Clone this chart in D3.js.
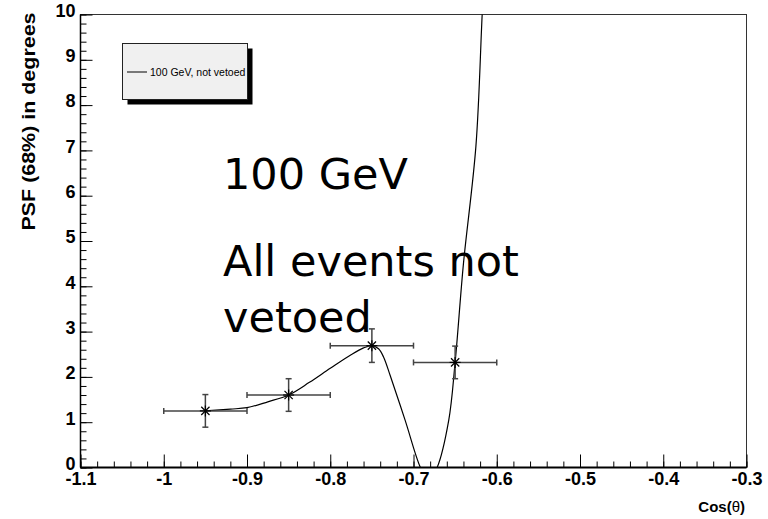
<!DOCTYPE html>
<html>
<head>
<meta charset="utf-8">
<script src="https://cdn.jsdelivr.net/npm/d3@7"></script>
<style>
  html, body { margin: 0; padding: 0; background: #fff; }
  svg { display: block; }
</style>
</head>
<body>
<svg id="chart" width="768" height="519"></svg>
<script>
// Measured PSF containment (68%) vs cos(theta), 100 GeV sample
const pointX = [-0.95, -0.85, -0.75, -0.65];
const pointY = [1.25, 1.60, 2.69, 2.32];
const errX = [0.05, 0.05, 0.05, 0.05];
const errY = [0.36, 0.36, 0.37, 0.36];

// Fitted curve, sampled along its length
const curveX = [-0.95, -0.92, -0.90, -0.875, -0.85, -0.825, -0.80, -0.775, -0.76, -0.75,
                -0.742, -0.736, -0.728, -0.71, -0.6917, -0.682, -0.6716, -0.6577, -0.65,
                -0.64, -0.625, -0.6175, -0.612];
const curveY = [1.25, 1.29, 1.32, 1.45, 1.60, 1.88, 2.19, 2.49, 2.64, 2.69,
                2.62, 2.44, 2.03, 1.04, 0.0, -0.3, 0.0, 1.04, 2.32,
                4.5, 7.1, 10.0, 12.0];

// Axis ticks
const xTickValues = [-1.1, -1.0, -0.9, -0.8, -0.7, -0.6, -0.5, -0.4, -0.3];
const xTickLabels = ["-1.1", "-1", "-0.9", "-0.8", "-0.7", "-0.6", "-0.5", "-0.4", "-0.3"];
const yTickValues = [0, 1, 2, 3, 4, 5, 6, 7, 8, 9, 10];
const yTickLabels = ["0", "1", "2", "3", "4", "5", "6", "7", "8", "9", "10"];

const legendLabel = "100 GeV, not vetoed";
const noteLines = ["100 GeV", "All events not", "vetoed"];

const svg = d3.select("#chart");
const frameL = 80.5, frameR = 746.5, frameT = 14.5, frameB = 467.5;

const x = d3.scaleLinear().domain([-1.1, -0.3]).range([frameL, frameR]);
const y = d3.scaleLinear().domain([0, 10]).range([frameB, frameT]);

const axisFont = "'Liberation Sans', Arial, Helvetica, sans-serif";

svg.append("defs").append("clipPath").attr("id", "plotClip")
  .append("rect").attr("x", frameL).attr("y", frameT)
  .attr("width", frameR - frameL).attr("height", frameB - frameT);

// Frame
svg.append("rect")
  .attr("x", frameL).attr("y", frameT)
  .attr("width", frameR - frameL).attr("height", frameB - frameT)
  .attr("fill", "none").attr("stroke", "#333").attr("stroke-width", 1);

// X axis: major ticks every 0.1, minor every 0.02
const xMinor = d3.range(0, 41).map(i => -1.1 + i * 0.02);
const xAxisMinor = d3.axisTop(x).tickValues(xMinor).tickSize(6).tickFormat("");
const gxm = svg.append("g").attr("transform", `translate(0,${frameB})`).call(xAxisMinor);
gxm.select(".domain").remove();

const xAxis = d3.axisTop(x).tickValues(xTickValues).tickSize(13)
  .tickFormat((d, i) => xTickLabels[i]);
const gx = svg.append("g").attr("transform", `translate(0,${frameB})`).call(xAxis);
gx.select(".domain").remove();
gx.selectAll("text")
  .attr("y", 17).attr("dy", "0")
  .attr("font-family", axisFont).attr("font-weight", "bold").attr("font-size", 18)
  .attr("fill", "#000");

// Y axis: major ticks every 1, minor every 0.2
const yMinor = d3.range(0, 51).map(i => i * 0.2);
const yAxisMinor = d3.axisRight(y).tickValues(yMinor).tickSize(6).tickFormat("");
const gym = svg.append("g").attr("transform", `translate(${frameL},0)`).call(yAxisMinor);
gym.select(".domain").remove();

const yAxis = d3.axisRight(y).tickValues(yTickValues).tickSize(12)
  .tickFormat((d, i) => yTickLabels[i]);
const gy = svg.append("g").attr("transform", `translate(${frameL},0)`).call(yAxis);
gy.select(".domain").remove();
gy.selectAll("text")
  .attr("x", -5).attr("dy", "0.1em")
  .attr("text-anchor", "end")
  .attr("font-family", axisFont).attr("font-weight", "bold").attr("font-size", 18)
  .attr("fill", "#000");

svg.selectAll(".tick line").attr("stroke", "#000");

// Axis lines
svg.append("line").attr("x1", frameL).attr("x2", frameR).attr("y1", frameB).attr("y2", frameB)
  .attr("stroke", "#000").attr("stroke-width", 2);
svg.append("line").attr("x1", frameL).attr("x2", frameL).attr("y1", frameT).attr("y2", frameB)
  .attr("stroke", "#000").attr("stroke-width", 1.5);

// Axis titles
svg.append("text")
  .attr("transform", `translate(35,${frameT - 2}) rotate(-90)`)
  .attr("text-anchor", "end")
  .attr("font-family", axisFont).attr("font-weight", "bold").attr("font-size", 19)
  .attr("textLength", 218).attr("lengthAdjust", "spacingAndGlyphs")
  .text("PSF (68%) in degrees");

const xt = svg.append("text")
  .attr("x", 745).attr("y", 512)
  .attr("text-anchor", "end")
  .attr("font-family", axisFont).attr("font-size", 15);
xt.append("tspan").attr("font-weight", "bold").text("Cos(");
xt.append("tspan").text("\u03b8");
xt.append("tspan").attr("font-weight", "bold").text(")");

// Fitted curve
const curvePts = curveX.map((v, i) => [v, curveY[i]]);
svg.append("path")
  .attr("clip-path", "url(#plotClip)")
  .attr("d", d3.line().x(d => x(d[0])).y(d => y(d[1])).curve(d3.curveCatmullRom.alpha(0.5))(curvePts))
  .attr("fill", "none").attr("stroke", "#000").attr("stroke-width", 1.2);

// Error bars and markers
const pts = pointX.map((v, i) => ({ x: v, y: pointY[i], ex: errX[i], ey: errY[i] }));
const eb = svg.append("g").attr("stroke", "#444").attr("stroke-width", 1.5);
pts.forEach(p => {
  const cx = x(p.x), cy = y(p.y);
  const x0 = x(p.x - p.ex), x1 = x(p.x + p.ex);
  const y0 = y(p.y - p.ey), y1 = y(p.y + p.ey);
  eb.append("line").attr("x1", x0).attr("x2", x1).attr("y1", cy).attr("y2", cy);
  eb.append("line").attr("x1", x0).attr("x2", x0).attr("y1", cy - 3).attr("y2", cy + 3);
  eb.append("line").attr("x1", x1).attr("x2", x1).attr("y1", cy - 3).attr("y2", cy + 3);
  eb.append("line").attr("x1", cx).attr("x2", cx).attr("y1", y0).attr("y2", y1);
  eb.append("line").attr("x1", cx - 3).attr("x2", cx + 3).attr("y1", y0).attr("y2", y0);
  eb.append("line").attr("x1", cx - 3).attr("x2", cx + 3).attr("y1", y1).attr("y2", y1);
});
const mk = svg.append("g").attr("stroke", "#000").attr("stroke-width", 1.2);
pts.forEach(p => {
  const cx = x(p.x), cy = y(p.y), r = 5.5;
  mk.append("line").attr("x1", cx - r).attr("x2", cx + r).attr("y1", cy).attr("y2", cy);
  mk.append("line").attr("x1", cx).attr("x2", cx).attr("y1", cy - r).attr("y2", cy + r);
  mk.append("line").attr("x1", cx - r * 0.75).attr("x2", cx + r * 0.75).attr("y1", cy - r * 0.75).attr("y2", cy + r * 0.75);
  mk.append("line").attr("x1", cx - r * 0.75).attr("x2", cx + r * 0.75).attr("y1", cy + r * 0.75).attr("y2", cy - r * 0.75);
});

// Legend with drop shadow
const lg = svg.append("g");
lg.append("rect").attr("x", 127.5).attr("y", 48.5).attr("width", 125).attr("height", 56).attr("fill", "#000");
lg.append("rect").attr("x", 122.5).attr("y", 43.5).attr("width", 125).attr("height", 56)
  .attr("fill", "#f0f0f0").attr("stroke", "#222").attr("stroke-width", 1);
lg.append("line").attr("x1", 127).attr("x2", 147).attr("y1", 72).attr("y2", 72)
  .attr("stroke", "#000").attr("stroke-width", 1);
lg.append("text").attr("x", 150).attr("y", 75.5)
  .attr("font-family", axisFont).attr("font-size", 10.5).attr("fill", "#000")
  .text(legendLabel);

// Annotation
const noteFont = "'DejaVu Sans', sans-serif";
const noteY = [189, 276, 332];
noteLines.forEach((t, i) => {
  svg.append("text").attr("x", 223).attr("y", noteY[i])
    .attr("font-family", noteFont).attr("font-size", 43).attr("fill", "#000")
    .text(t);
});
</script>
</body>
</html>
